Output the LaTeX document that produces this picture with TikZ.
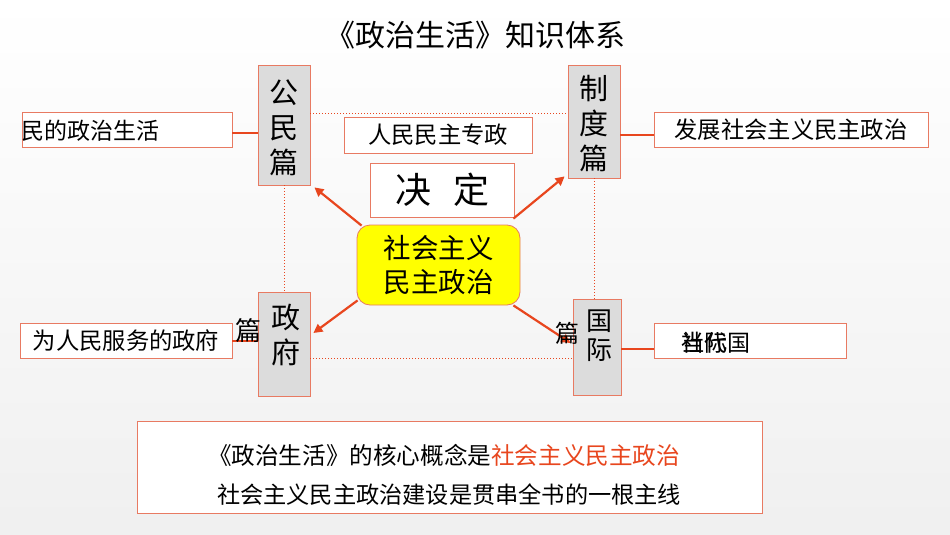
\documentclass[tikz,border=0pt]{standalone}
\usepackage{fontspec}
\setmainfont{Noto Sans CJK SC}
\usetikzlibrary{arrows.meta,calc}
\definecolor{org}{HTML}{E8461E}
\definecolor{bord}{HTML}{E87A62}
\definecolor{gfill}{HTML}{DCDCDC}
\definecolor{ylw}{HTML}{FFFF00}
\begin{document}
\begin{tikzpicture}[x=1pt,y=-1pt,
  gbox/.style={draw=bord,fill=gfill,line width=0.8pt,inner sep=0pt},
  tbox/.style={draw=bord,fill=white,line width=0.8pt,inner sep=0pt,font=\fontsize{23.3}{27}\selectfont},
  vtxt/.style={align=center,inner sep=0pt},
  arr/.style={draw=org,line width=2.2pt,-{Triangle[length=9pt,width=9pt]}},
  link/.style={draw=org,line width=2.4pt},
  dot/.style={draw=org,line width=1pt,dotted}]
\useasboundingbox (0,0) rectangle (950,535);
\shade[top color=white,bottom color=black!6] (0,0) rectangle (950,535);
% title
\node[inner sep=0pt,font=\fontsize{30}{33}\selectfont] (title) at (475,35) {《政治生活》知识体系};
% four gray boxes
\node[gbox,minimum width=52,minimum height=120] (gm) at (284,125) {};
\node[vtxt,font=\fontsize{29}{35}\selectfont] (gmt) at (284,128) {公\\民\\篇};
\node[gbox,minimum width=52,minimum height=113] (zd) at (594,121.5) {};
\node[vtxt,font=\fontsize{29}{35}\selectfont] (zdt) at (594,124) {制\\度\\篇};
\node[gbox,minimum width=52,minimum height=104] (zf) at (284,344) {};
\node[vtxt,font=\fontsize{29}{35}\selectfont] (zft) at (286,335) {政\\府};
\node[gbox,minimum width=48,minimum height=96] (gj) at (597,347) {};
\node[vtxt,font=\fontsize{26}{29}\selectfont] (gjt) at (599,336) {国\\际};
% text boxes
\node[tbox,minimum width=210,minimum height=35] (lt) at (127,129.5) {};
\node[anchor=west,inner sep=0pt,font=\fontsize{23}{27}\selectfont] (ltt) at (21,131) {民的政治生活};
\node[tbox,minimum width=188,minimum height=36] (rm) at (438,135) {人民民主专政};
\node[tbox,minimum width=144,minimum height=54,font=\fontsize{36}{40}\selectfont] (jd) at (442,190) {决\hspace{22pt}定};
\node[draw=bord,fill=ylw,rounded corners=13pt,line width=0.8pt,minimum width=163,minimum height=80,align=center,inner sep=0pt,font=\fontsize{27.5}{34}\selectfont] (c) at (438.5,265) {社会主义\\民主政治};
\node[tbox,minimum width=274,minimum height=35] (rt) at (791,129.5) {发展社会主义民主政治};
\node[tbox,minimum width=212,minimum height=35] (lb) at (126,340.5) {为人民服务的政府};
\node[tbox,minimum width=192,minimum height=35] (rb) at (750,340.5) {};
\node[anchor=west,inner sep=0pt,font=\fontsize{23}{27}\selectfont] (rbt) at (681,343) {当代国};
\node[anchor=west,inner sep=0pt,font=\fontsize{23}{27}\selectfont] (rbt2) at (681,343) {社际};
% bottom box
\node[draw=bord,fill=white,line width=0.8pt,minimum width=625,minimum height=92,inner sep=0pt] (bt) at (449.5,467) {};
\node[inner sep=0pt,font=\fontsize{23.6}{27}\selectfont] (b1) at (444,455) {《政治生活》的核心概念是\textcolor{org}{社会主义民主政治}};
\node[inner sep=0pt,font=\fontsize{23.2}{27}\selectfont] (b2) at (449,495) {社会主义民主政治建设是贯串全书的一根主线};
% dotted frame
\draw[dot] ($(gm.east)+(0,-12)$) -- ($(zd.west)+(0,-8.5)$);
\draw[dot] (gm.south) -- (zf.north);
\draw[dot] ($(zf.east)+(0,14)$) -- ($(gj.west)+(0,11)$);
\draw[dot] (zd.south) -- (zd.south |- gj.north);
% short links
\draw[link] (lt.east |- 0,133) -- (gm.west |- 0,133);
\draw[link] (zd.east |- 0,135) -- (rt.west |- 0,135);
\draw[link] (lb.east |- 0,341) -- (zf.west |- 0,341);
\draw[link] (gj.east |- 0,349) -- (rb.west |- 0,349);
% arrows
\draw[arr] ($(c.north west)+(5,1)$) -- ($(gm.south east)+(4,2)$);
\draw[arr] ($(c.north east)+(-7,-6)$) -- ($(zd.south west)+(-3,-2)$);
\draw[arr] ($(c.south west)+(1,-5)$) -- ($(zf.east)+(3,-11)$);
\draw[arr] ($(c.south east)+(-7,0)$) -- ($(gj.west)+(-2,-4)$);
% stray labels
\node[inner sep=0pt,font=\fontsize{26}{28}\selectfont] (p1) at (248,331) {篇};
\node[inner sep=0pt,font=\fontsize{24}{26}\selectfont] (p2) at (567,333) {篇};
\end{tikzpicture}
\end{document}
